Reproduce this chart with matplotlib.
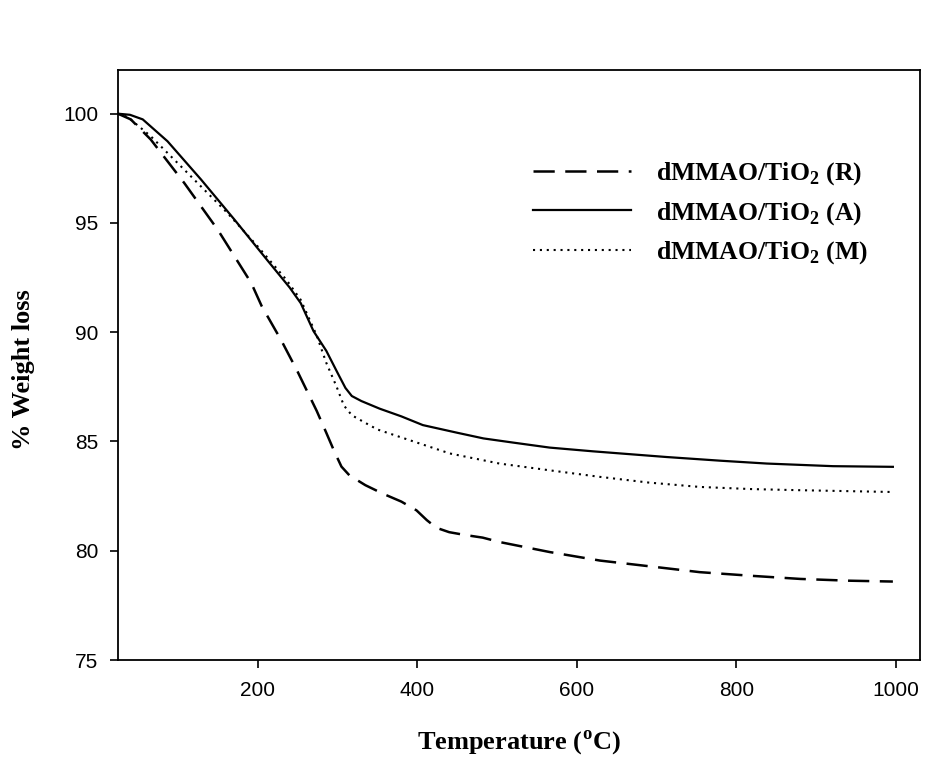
import matplotlib
matplotlib.use("Agg")
import matplotlib.pyplot as plt

# Temperature (°C) and % weight for each sample
temp_R = [25, 41, 66, 108, 150, 192, 205, 230, 250, 262, 274, 286, 296, 305, 315, 335, 357, 380, 399, 412, 424, 440, 460, 482, 503, 566, 629, 700, 754, 820, 880, 940, 996]
wt_R   = [100.0, 99.74, 98.82, 96.83, 94.69, 92.25, 91.2, 89.6, 88.2, 87.3, 86.4, 85.4, 84.55, 83.85, 83.45, 83.0, 82.61, 82.25, 81.85, 81.4, 81.05, 80.85, 80.72, 80.6, 80.4, 79.94, 79.55, 79.25, 79.02, 78.85, 78.71, 78.63, 78.59]

temp_A = [25, 40, 56, 87, 129, 171, 212, 240, 254, 270, 286, 300, 310, 318, 330, 353, 380, 407, 450, 483, 520, 566, 620, 712, 780, 838, 921, 996]
wt_A   = [100.0, 99.95, 99.74, 98.74, 96.99, 95.15, 93.3, 92.05, 91.33, 90.05, 89.15, 88.15, 87.45, 87.08, 86.85, 86.5, 86.15, 85.75, 85.4, 85.14, 84.95, 84.72, 84.55, 84.29, 84.12, 83.99, 83.87, 83.84]

temp_M = [25, 37, 66, 108, 162, 200, 236, 254, 274, 286, 299, 308, 318, 336, 350, 378, 441, 503, 566, 629, 690, 754, 820, 880, 993]
wt_M   = [100.0, 99.85, 98.97, 97.44, 95.46, 93.93, 92.4, 91.48, 89.85, 88.6, 87.5, 86.65, 86.2, 85.83, 85.55, 85.21, 84.45, 83.99, 83.68, 83.38, 83.12, 82.92, 82.82, 82.77, 82.69]

labels = [r'dMMAO/TiO$_\mathrm{2}$ (R)', r'dMMAO/TiO$_\mathrm{2}$ (A)', r'dMMAO/TiO$_\mathrm{2}$ (M)']
x_ticks = [200, 400, 600, 800, 1000]
y_ticks = [75, 80, 85, 90, 95, 100]

plt.rcParams['mathtext.fontset'] = 'custom'
plt.rcParams['mathtext.rm'] = 'Liberation Serif:bold'
plt.rcParams['mathtext.bf'] = 'Liberation Serif:bold'

fig = plt.figure(figsize=(9.35, 7.72), dpi=100)
ax = fig.add_axes([118/935, 1-660/772, (920-118)/935, (660-70)/772])

ax.plot(temp_R, wt_R, color='black', lw=1.8, dashes=(8.5, 4.2), label=labels[0])
ax.plot(temp_A, wt_A, color='black', lw=1.6, label=labels[1])
ax.plot(temp_M, wt_M, color='black', lw=1.5, dashes=(1, 2.3), label=labels[2])

ax.set_xlim(25, 1030)
ax.set_ylim(75, 102)
ax.set_xticks(x_ticks)
ax.set_yticks(y_ticks)
for s in ax.spines.values():
    s.set_linewidth(1.3)
ax.tick_params(direction='out', length=6, width=1.2)
ax.tick_params(axis='y', pad=8)
ax.tick_params(axis='x', pad=9)
for lab in ax.get_xticklabels() + ax.get_yticklabels():
    lab.set_family('Liberation Sans')
    lab.set_fontsize(15)

ax.set_xlabel(r'Temperature ($^\mathrm{o}$C)', family='Liberation Serif', fontsize=19, fontweight='bold', labelpad=20)
ax.set_ylabel('% Weight loss', family='Liberation Serif', fontsize=19, fontweight='bold')
ax.yaxis.set_label_coords(-0.104, 0.493)

leg = ax.legend(loc='upper left', bbox_to_anchor=((510-118)/802, 1-(137-70)/590), frameon=False,
                handlelength=3.8, handletextpad=1.0, labelspacing=0.5,
                prop={'family': 'Liberation Serif', 'weight': 'bold', 'size': 18.5})

fig.savefig('out.png', dpi=100)
